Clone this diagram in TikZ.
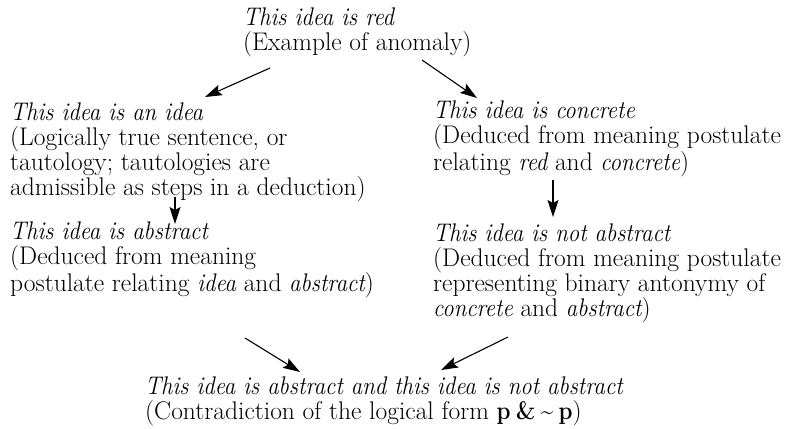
\documentclass[tikz,border=0pt]{standalone}
\usetikzlibrary{arrows.meta,calc}
\newcommand\myit[1]{\scalebox{0.895}[1]{\itshape #1}}
\newcommand\pnotp{\scalebox{0.88}[1]{\textbf{p\hspace{6pt}\&\hspace{6pt}\textasciitilde\hspace{6pt}p}}}
\begin{document}
\begin{tikzpicture}[x=1pt,y=-1pt,
  txt/.style={anchor=base west,inner sep=0pt,align=left,font=\fontsize{25.5}{25}\selectfont},
  arr/.style={-{Stealth[length=17pt,width=11pt,inset=3pt]},line width=1.1pt}]
\useasboundingbox (0,0) rectangle (794,428);
\node[txt] (red) at (243,51) {\myit{This idea is red}\\(Example of anomaly)};
\node[txt] (idea) at (10,195) {\myit{This idea is an idea}\\(Logically true sentence, or\\tautology; tautologies are\\admissible as steps in a deduction)};
\node[txt] (concrete) at (433,170) {\myit{This idea is concrete}\\(Deduced from meaning postulate\\relating \myit{red} and \myit{concrete})};
\node[txt] (abstract) at (10,291) {\myit{This idea is abstract}\\(Deduced from meaning\\postulate relating \myit{idea} and \myit{abstract})};
\node[txt] (notabs) at (433,316) {\myit{This idea is not abstract}\\(Deduced from meaning postulate\\representing binary antonymy of\\\myit{concrete} and \myit{abstract})};
\node[txt] (contra) at (145,419) {\myit{This idea is abstract and this idea is not abstract}\\(Contradiction of the logical form \pnotp)};
\draw[arr] ($(red.base west)+(27,17)$) -- ($(idea.base west)+(195,-98)$);
\draw[arr] ($(red.base west)+(179,9)$) -- ($(concrete.base west)+(44,-72)$);
\draw[arr] ($(concrete.base west)+(120,10)$) -- ($(notabs.base west)+(120,-99)$);
\draw[arr] ($(idea.base west)+(165,2)$) -- ($(abstract.base west)+(165,-67)$);
\draw[arr] ($(abstract.base west)+(235,47)$) -- ($(contra.base west)+(155,-47)$);
\draw[arr] ($(notabs.base west)+(75,21)$) -- ($(contra.base west)+(296,-49)$);
\end{tikzpicture}
\end{document}
